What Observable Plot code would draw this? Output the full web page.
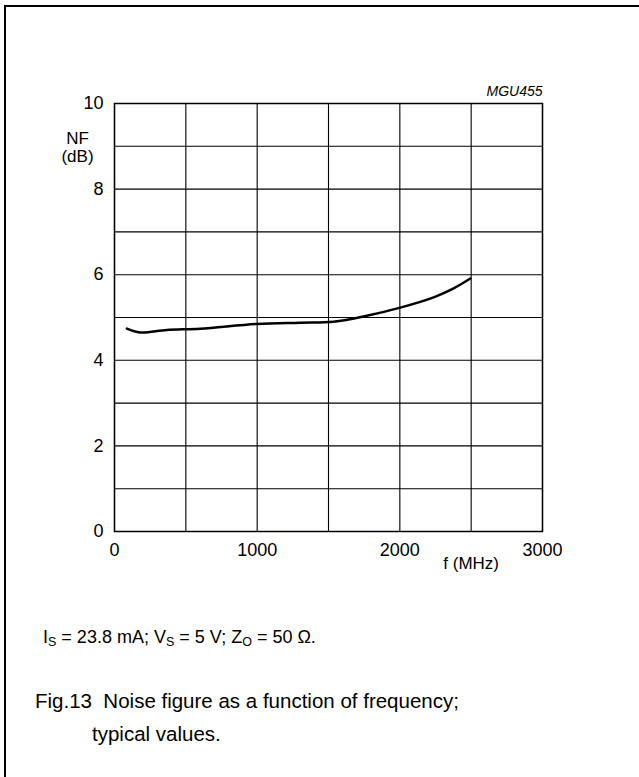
<!DOCTYPE html>
<html><head><meta charset="utf-8">
<script src="https://cdn.jsdelivr.net/npm/d3@7"></script>
<script src="https://cdn.jsdelivr.net/npm/@observablehq/plot@0.6"></script>
<style>
body{margin:0;background:#fff;font-family:"Liberation Sans",Arial,sans-serif;color:#000;}
#wrap{position:relative;width:639px;height:777px;overflow:hidden;background:#fff;}
#border{position:absolute;left:4px;top:5px;right:-10px;bottom:-10px;border-top:2px solid #000;border-left:2px solid #000;}
#chart{position:absolute;left:0;top:0;}
.cond{position:absolute;left:43px;top:627px;font-size:18px;white-space:nowrap;}
.cond sub{font-size:12.5px;vertical-align:-3px;line-height:0;}
.fig{position:absolute;left:35px;top:684px;font-size:20.5px;line-height:33px;white-space:nowrap;}
</style></head>
<body>
<div id="wrap">
<div id="border"></div>
<div id="chart"></div>
<div class="cond">I<sub>S</sub> = 23.8 mA; V<sub>S</sub> = 5 V; Z<sub>O</sub> = 50 Ω.</div>
<div class="fig">Fig.13&nbsp; Noise figure as a function of frequency;<br><span style="padding-left:57px">typical values.</span></div>
</div>
<script>
const freq = [87, 180, 367, 601, 998, 1300, 1535, 1769, 2003, 2237, 2377, 2494];
const nf = [4.74, 4.65, 4.71, 4.74, 4.85, 4.88, 4.90, 5.04, 5.23, 5.47, 5.68, 5.91];
const xGrid = [0, 500, 1000, 1500, 2000, 2500, 3000];
const yGrid = [0, 1, 2, 3, 4, 5, 6, 7, 8, 9, 10];
const xTicks = [0, 1000, 2000, 3000];
const yTicks = [0, 2, 4, 6, 8, 10];

const data = freq.map((f, i) => ({f, nf: nf[i]}));

const chart = Plot.plot({
  width: 639,
  height: 580,
  marginLeft: 114,
  marginRight: 97,
  marginTop: 103,
  marginBottom: 49,
  style: {fontFamily: "'Liberation Sans', Arial, sans-serif", fontSize: "17px", background: "transparent", overflow: "visible"},
  x: {domain: [0, 3000]},
  y: {domain: [0, 10]},
  marks: [
    Plot.ruleX(xGrid, {stroke: "#000", strokeWidth: 1.1}),
    Plot.ruleY(yGrid, {stroke: "#000", strokeWidth: 1.1}),
    Plot.frame({stroke: "#000", strokeWidth: 1.5}),
    Plot.axisX({ticks: xTicks, tickFormat: d => String(d), tickSize: 0, tickPadding: 12, label: null, fontSize: 18}),
    Plot.axisY({ticks: yTicks, tickFormat: d => String(d), tickSize: 0, tickPadding: 11, label: null, fontSize: 18}),
    Plot.line(data, {x: "f", y: "nf", stroke: "#000", strokeWidth: 2.5, curve: "catmull-rom"}),
    Plot.text(["f (MHz)"], {x: 2500, y: 0, text: d => d, dy: 32, fontSize: 17}),
    Plot.text(["NF"], {x: 0, y: 10, text: d => d, dx: -37, dy: 35, fontSize: 17}),
    Plot.text(["(dB)"], {x: 0, y: 10, text: d => d, dx: -37, dy: 53, fontSize: 17}),
    Plot.text(["MGU455"], {x: 3000, y: 10, text: d => d, dy: -12, textAnchor: "end", fontSize: 14, fontStyle: "italic"})
  ]
});
document.getElementById("chart").appendChild(chart);
</script>
</body></html>
